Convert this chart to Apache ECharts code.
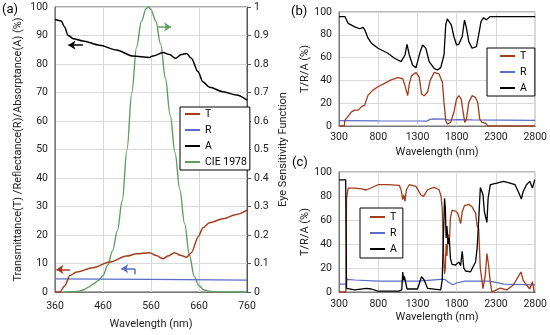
<!DOCTYPE html>
<html>
<head>
<meta charset="utf-8">
<script src="https://cdn.jsdelivr.net/npm/echarts@6/dist/echarts.min.js"></script>
<style>
html,body{margin:0;padding:0;background:#fff;}
#c{width:550px;height:335px;}
</style>
</head>
<body>
<div id="c"></div>
<script>
// ---------- Panel (a): 360-760 nm ----------
const aA_wl = [360,373,380,387,398,418,453,488,522,557,564,585,599,611,623,634,644,658,668,682,710,738,760];
const aA_val = [95.6,95.1,93,90.1,88.9,88.1,86.6,84.9,82.8,82.3,82.8,84.0,83.3,82.0,83.3,83.7,82.0,77.3,73.8,71.8,70.3,69.1,67.3];
const aT_wl = [360,370,380,391,405,439,474,509,530,557,571,585,595,609,623,634,644,659,668,682,710,738,760];
const aT_val = [0,0,2.1,5.8,7.0,8.5,10.5,12.6,13.4,13.8,12.8,11.7,12.6,13.8,12.8,12.2,13.8,19.6,22.5,24.3,25.7,27.2,28.7];
const aR_wl = [360,560,760];
const aR_val = [4.6,4.4,4.2];
const cie_wl = [380,390,400,410,420,430,440,450,460,470,480,490,500,510,520,530,540,550,555,560,570,580,590,600,610,620,630,640,650,660,670,680,690,700,720,760];
const cie_val = [0,0.0005,0.001,0.003,0.008,0.017,0.028,0.04,0.058,0.095,0.145,0.215,0.32,0.5,0.7,0.86,0.95,0.995,1.0,0.99,0.95,0.87,0.75,0.62,0.49,0.36,0.24,0.13,0.055,0.022,0.008,0.003,0.001,0.0005,0,0];

// ---------- Panel (b): 300-2800 nm ----------
const bA_wl = [300,375,396,417,501,565,607,628,670,713,797,923,1007,1091,1112,1141,1167,1196,1238,1280,1335,1365,1407,1449,1512,1554,1596,1638,1660,1680,1701,1731,1764,1798,1827,1870,1899,1924,1954,1996,2051,2080,2110,2143,2177,2228,2400,2600,2800];
const bA_val = [96,96,93,90,87,85.3,86.5,84.4,77,72.6,68.2,63.8,59.4,56.5,55.5,62.3,71.5,62.3,53.5,51,65.2,71,68.1,56.5,50.6,49.1,51.2,62.3,88.8,94,93.5,88.8,78.5,71.1,71.7,78.5,93,85.8,74,68.2,69.6,79.9,91.7,95,93.2,96,96,96,96];
const bT_wl = [300,367,375,396,459,501,543,585,607,628,670,733,797,881,965,1049,1112,1141,1175,1196,1225,1280,1322,1352,1385,1428,1461,1512,1575,1617,1638,1660,1680,1722,1764,1798,1827,1857,1882,1903,1924,1954,1996,2038,2068,2093,2122,2164,2194,2250,2800];
const bT_val = [0,0,5,6.5,12.4,13.9,13.9,16.8,16.8,18.3,27.1,31.5,34.4,37.4,40.5,42.5,41.5,35.4,26.6,37,44.2,47,42.8,28.1,26.6,29.6,39.8,47,45.7,38.4,20.7,4.6,1.7,3.1,12,23.8,26.6,23.8,12,3.1,6,20.7,26.6,25.2,20.7,6,3.1,2.6,0.2,0,0];
const bR_wl = [300,800,1300,1420,1460,1500,1650,1700,1800,2000,2400,2800];
const bR_val = [4.8,4.5,4.4,4.3,5.8,6.2,6.0,5.2,5.6,5.4,5.2,4.9];

// ---------- Panel (c): 300-2800 nm ----------
const cT_wl = [300,388,396,417,501,585,648,670,797,923,1070,1091,1112,1125,1141,1158,1196,1280,1343,1377,1428,1512,1575,1600,1615,1630,1645,1655,1665,1675,1690,1705,1720,1740,1786,1815,1850,1870,1900,1954,1996,2020,2040,2060,2080,2100,2135,2164,2185,2206,2227,2248,2269,2353,2437,2521,2584,2618,2647,2689,2731,2765,2786,2800];
const cT_val = [0,0,78,86.6,86.6,86,85,86.6,89.4,89.4,88.8,85.2,76.9,81,75.5,85.2,89.4,88,81,79.7,85.2,87.2,85.2,80,70,35,15,20,40,30,48,40,62,68,67.4,65.4,57,66.8,72,73,71,68,66,55,52.9,20,2.8,13.9,32,22.3,8.4,0,0,3.3,1.7,5.8,12.8,16.7,9.8,5.8,2.5,8.6,0,0];
const cA_wl = [300,385,390,396,417,501,648,670,713,797,1070,1100,1112,1125,1133,1146,1167,1301,1352,1385,1428,1596,1615,1630,1645,1655,1665,1675,1690,1705,1720,1740,1786,1827,1850,1870,1890,1912,1975,2020,2040,2060,2080,2101,2135,2152,2185,2200,2228,2312,2396,2480,2543,2584,2624,2647,2689,2731,2765,2794,2800];
const cA_val = [93.5,93.5,50,3,1.7,1.7,3.1,4.5,2.5,0.8,0.8,2,16.7,9.8,13,13.9,2.5,2.5,12.8,10,3.1,1.7,10,45,78,70,45,55,40,45,28,23,22.5,25,22,34,20,17.5,16.7,22.5,25,36.4,60,87,81,67.1,58,78.3,89.4,90.8,92.2,90.8,89.4,83.8,77.5,83.8,89.4,92.2,86.6,93.6,93.6];
const cR_wl = [300,390,400,500,800,1300,1600,1650,1700,1750,1800,1900,2100,2200,2300,2400,2800];
const cR_val = [6.5,6.5,10.5,10,9,9,10.5,10.5,8,6,7.5,9,9,9,8,6.5,6];

// ---------- Annotation arrows (panel a, data units) ----------
const arrowA = [[418,86.6],[388,86.6]];
const arrowCIE = [[575,0.93],[602,0.93]];
const arrowT = [[391,7.9],[363,7.9]];
const arrowR = [[526,8.2],[498,8.2]];
const arrowRstem = [[526,8.2],[526,6.2]];

const COL_T = '#a23c1c', COL_R = '#5a6cc8', COL_A = '#000000', COL_CIE = '#5f9e5f';
const FONT = 'Roboto';
const pair = (wl, v) => wl.map((w, i) => [w, v[i]]);

function mk(name, wl, vals, gi, yi, color, width, smooth, extra) {
  return Object.assign({
    type: 'line', name: name, xAxisIndex: gi, yAxisIndex: yi,
    data: pair(wl, vals), showSymbol: false, symbol: 'none',
    smooth: smooth, smoothMonotone: 'x', lineStyle: {color: color, width: width}, itemStyle: {color: color},
    silent: true, animation: false
  }, extra || {});
}
function arrowML(color, lines) {
  return {
    silent: true, animation: false, label: {show: false},
    lineStyle: {color: color, width: 1.5, type: 'solid'},
    symbolSize: [7, 7],
    data: lines.map(l => [
      {coord: l.p[0], symbol: 'none'},
      {coord: l.p[1], symbol: l.head ? 'arrow' : 'none'}
    ])
  };
}

const plain = v => String(v);
const axLabel = {fontFamily: FONT, fontSize: 10.5, color: '#222', formatter: plain};
const nameStyle = {fontFamily: FONT, fontSize: 11, color: '#222'};
const splitL = {show: true, lineStyle: {color: '#d9d9d9', width: 1}};

function xAx(gi, min, max, interval, gap, lm) {
  return {gridIndex: gi, type: 'value', min: min, max: max, interval: interval,
    name: 'Wavelength (nm)', nameLocation: 'middle', nameGap: gap, nameTextStyle: nameStyle,
    axisLine: {show: true, lineStyle: {color: '#777'}}, axisTick: {show: false},
    axisLabel: Object.assign({margin: lm}, axLabel), splitLine: splitL};
}
function yAx(gi, interval, name, gap, extra) {
  return Object.assign({gridIndex: gi, type: 'value', min: 0, max: 100, interval: interval,
    name: name, nameLocation: 'middle', nameRotate: 90, nameGap: gap, nameTextStyle: nameStyle,
    axisLine: {show: true, lineStyle: {color: '#777'}}, axisTick: {show: false},
    axisLabel: Object.assign({margin: 7}, axLabel), splitLine: splitL}, extra || {});
}

const legBase = {orient: 'vertical', align: 'left', icon: 'rect', itemWidth: 15, itemHeight: 2, itemGap: 2,
  backgroundColor: '#fff', borderColor: '#000', borderWidth: 1, borderRadius: 0,
  textStyle: {fontFamily: FONT, fontSize: 10.5, color: '#000', lineHeight: 14}, selectedMode: false};

const option = {
  animation: false,
  backgroundColor: '#fff',
  grid: [
    {left: 55, right: 303, top: 7, bottom: 42, show: true, borderColor: '#555', borderWidth: 1},
    {left: 339, right: 13, top: 12, bottom: 209, show: true, borderColor: '#777', borderWidth: 1},
    {left: 339, right: 13, top: 172, bottom: 43, show: true, borderColor: '#777', borderWidth: 1}
  ],
  xAxis: [
    xAx(0, 360, 760, 100, 27, 9),
    xAx(1, 300, 2800, 500, 21, 6),
    xAx(2, 300, 2800, 500, 20, 7)
  ],
  yAxis: [
    yAx(0, 10, 'Transmittance(T) /Reflectance(R)/Absorptance(A) (%)', 31),
    {gridIndex: 0, type: 'value', min: 0, max: 1, interval: 0.1, position: 'right',
      name: 'Eye Sensitivity Function', nameLocation: 'middle', nameRotate: 90, nameGap: 31,
      nameTextStyle: nameStyle,
      axisLine: {show: true, lineStyle: {color: '#555'}},
      axisTick: {show: true, length: 4, lineStyle: {color: '#555'}},
      axisLabel: Object.assign({margin: 7}, axLabel), splitLine: {show: false}},
    yAx(1, 20, 'T/R/A (%)', 24),
    yAx(2, 20, 'T/R/A (%)', 24)
  ],
  legend: [
    Object.assign({}, legBase, {data: ['T','R','A','CIE 1978'], left: 180, top: 107, padding: [0, 3, 1, 5]}),
    Object.assign({}, legBase, {data: ['T','R','A'], left: 487, top: 48, padding: [1, 8, 1, 13]}),
    Object.assign({}, legBase, {data: ['T','R','A'], left: 360, top: 208, padding: [2, 6, 2, 10]})
  ],
  graphic: [
    {type: 'text', left: 2, top: 3, style: {text: '(a)', font: '13px Roboto', fill: '#000'}},
    {type: 'text', left: 291, top: 5, style: {text: '(b)', font: '13px Roboto', fill: '#000'}},
    {type: 'text', left: 292, top: 156, style: {text: '(c)', font: '13px Roboto', fill: '#000'}}
  ],
  series: [
    mk('CIE 1978', cie_wl, cie_val, 0, 1, COL_CIE, 1.4, 0.35,
      {markLine: arrowML(COL_CIE, [{p: arrowCIE, head: true}])}),
    mk('R', aR_wl, aR_val, 0, 0, COL_R, 1.3, false,
      {markLine: arrowML(COL_R, [{p: arrowR, head: true}, {p: arrowRstem, head: false}])}),
    mk('T', aT_wl, aT_val, 0, 0, COL_T, 1.5, 0.3,
      {markLine: arrowML(COL_T, [{p: arrowT, head: true}])}),
    mk('A', aA_wl, aA_val, 0, 0, COL_A, 1.5, 0.3,
      {markLine: arrowML(COL_A, [{p: arrowA, head: true}])}),

    mk('R', bR_wl, bR_val, 1, 2, COL_R, 1.2, false),
    mk('T', bT_wl, bT_val, 1, 2, COL_T, 1.3, false),
    mk('A', bA_wl, bA_val, 1, 2, COL_A, 1.3, false),

    mk('R', cR_wl, cR_val, 2, 3, COL_R, 1.2, false),
    mk('T', cT_wl, cT_val, 2, 3, COL_T, 1.3, false),
    mk('A', cA_wl, cA_val, 2, 3, COL_A, 1.3, false)
  ]
};

const chart = echarts.init(document.getElementById('c'), null, {renderer: 'canvas'});
chart.setOption(option);
</script>
</body>
</html>
